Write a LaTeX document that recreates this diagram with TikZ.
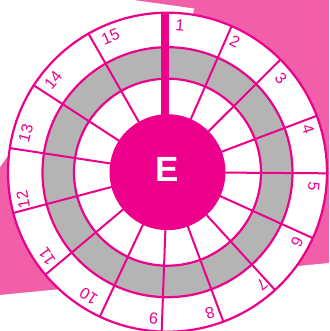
\documentclass[tikz,border=0pt]{standalone}
\usepackage{fontspec}
\setmainfont{Liberation Sans}
\definecolor{dartmagenta}{RGB}{236,0,140}
\definecolor{bgpink}{RGB}{242,94,168}
\definecolor{ringgray}{RGB}{180,180,180}

\begin{document}
\begin{tikzpicture}[
  x=1pt, y=1pt,
  ringline/.style={draw=dartmagenta, line width=2.2pt},
  spokeline/.style={draw=dartmagenta, line width=2pt},
  numlabel/.style={font=\fontsize{16}{16}\selectfont, text=dartmagenta, inner sep=0pt}
]
  % background band
  \fill[bgpink] (-167.5,-158.8) rectangle (161.5,172.2);
  \fill[white] (-167.5,172.2) -- (-34,172.2) -- (26.5,163.7) -- (0,0) -- (-155.5,22.2) -- (-167.5,5.2) -- cycle;
  \fill[white] (-167.5,-122.8) -- (161.5,-90.8) -- (161.5,-158.8) -- (-167.5,-158.8) -- cycle;
  \useasboundingbox (-167.5,-158.8) rectangle (161.5,172.2);

  % rings
  \filldraw[fill=white, ringline] (0,0) circle[radius=159.5pt];
  \fill[ringgray, even odd rule] (0,0) circle[radius=125pt] circle[radius=93.5pt];
  \draw[ringline] (0,0) circle[radius=125pt];
  \draw[ringline] (0,0) circle[radius=93.5pt];

  % spokes
  \foreach \t in {23.7,45.1,69.3,90.4,114.4,137.6,159.5,182.1,205.1,230,255.2,278.7,303,330.3}
    \draw[spokeline] ({90-\t}:50pt) -- ({90-\t}:159.5pt);
  \fill[dartmagenta] (-6.5,50) rectangle (1.5,159.5);

  % hub
  \fill[dartmagenta] (0,0) circle[radius=58pt];
  \node[text=white, font=\fontsize{35}{35}\selectfont\bfseries, inner sep=0pt] (hub) at (0,3) {E};

  % numbers
  \foreach \a/\n in {4.9/1,27.3/2,50.5/3,73.1/4,95.7/5,118.2/6,140/7,163.2/8,185.4/9,212.4/10,235/11,259.3/12,285.3/13,308.9/14,337.2/15}
    \node[numlabel, rotate=-\a] (lbl\n) at ({90-\a}:147pt) {\n};
\end{tikzpicture}
\end{document}
